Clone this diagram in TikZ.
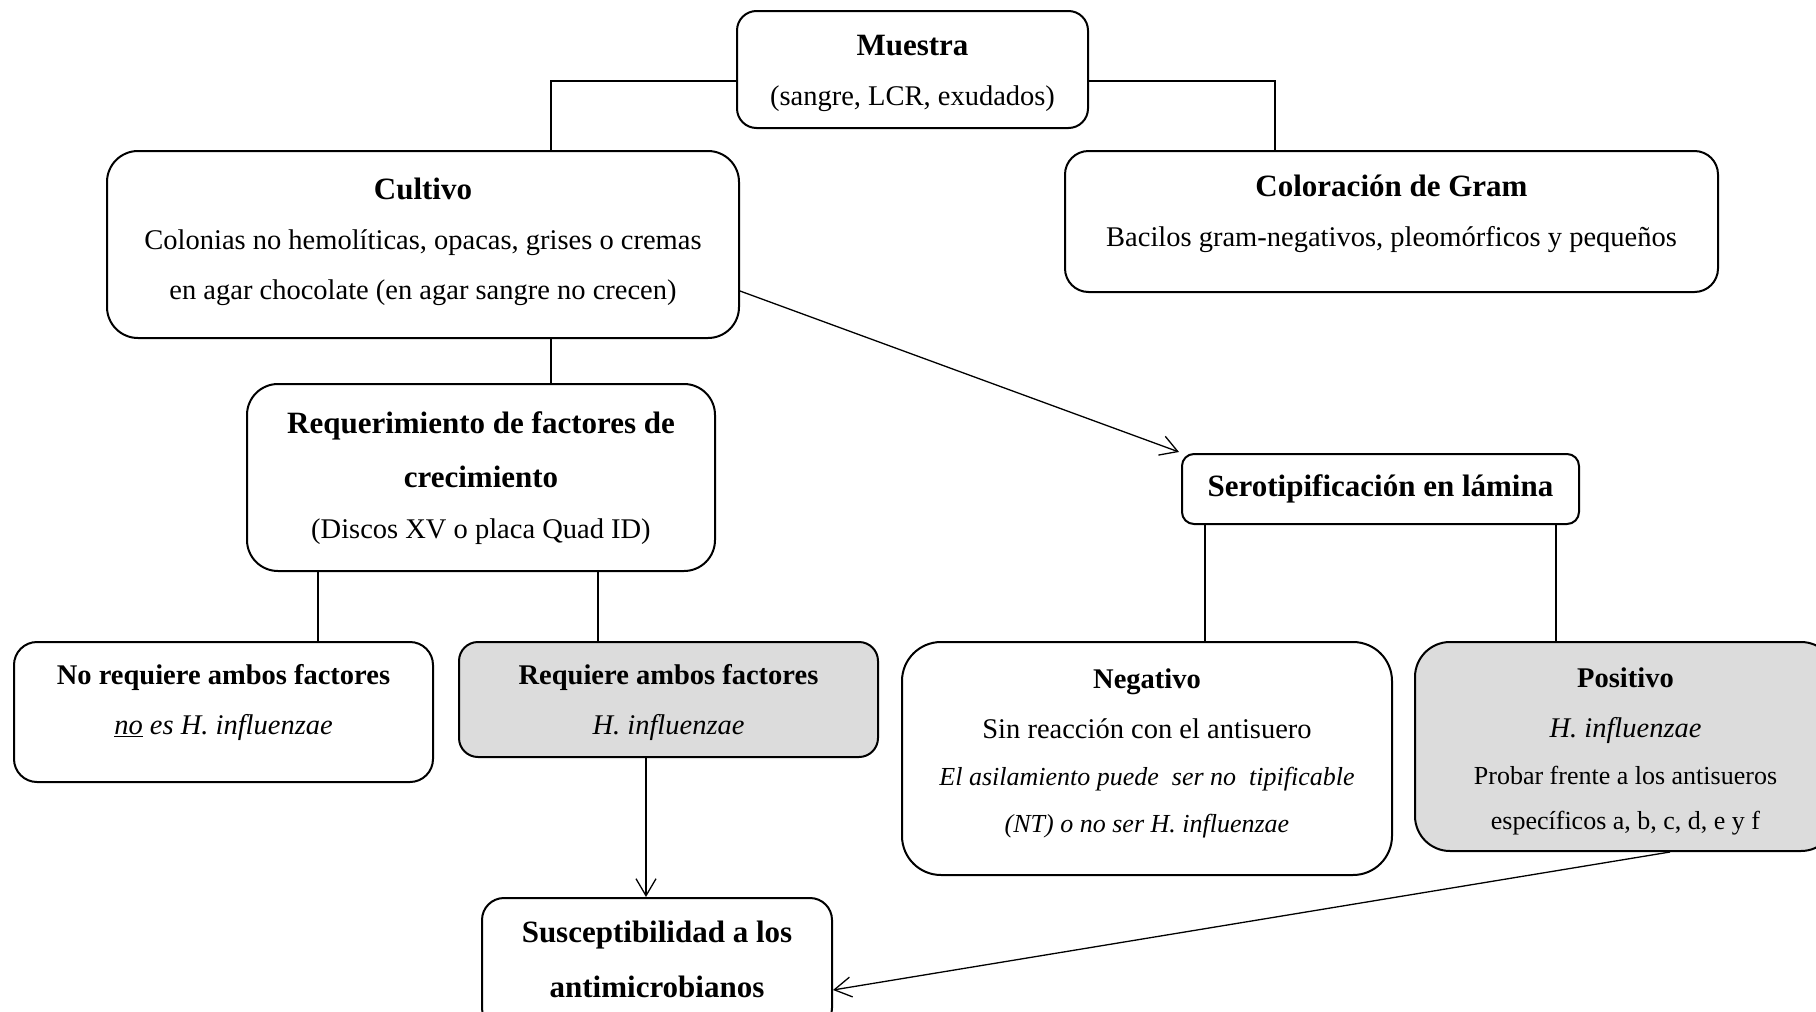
\documentclass[tikz,border=0pt]{standalone}
\usepackage{fontspec}
\setmainfont{Liberation Serif}
\usetikzlibrary{arrows.meta}
\definecolor{boxgray}{RGB}{220,220,220}
\newcommand\hdfont{\fontsize{31}{50}\selectfont\bfseries}
\newcommand\lvfont{\fontsize{28.5}{50}\selectfont\bfseries}
\newcommand\smfont{\fontsize{26}{46}\selectfont}
\tikzset{
  box/.style={draw=black, line width=2pt, fill=white, inner sep=0pt},
  graybox/.style={box, fill=boxgray},
  txt/.style={align=center, inner sep=0pt, font=\fontsize{28.5}{50}\selectfont},
  link/.style={line width=1.3pt},
  arr/.style={link, -{Straight Barb[length=17pt,width=20pt]}}
}
\begin{document}
\begin{tikzpicture}[x=1pt,y=-1pt]
\useasboundingbox (0,0) rectangle (1816,1012);
\clip (0,0) rectangle (1816,1012);
\fill[white] (0,0) rectangle (1816,1012);

% boxes
\node[box, minimum width=351pt, minimum height=117pt, rounded corners=19.5pt] (muestra) at (912.5,69.5) {};
\node[box, minimum width=632pt, minimum height=187pt, rounded corners=31pt] (cultivo) at (423,244.5) {};
\node[box, minimum width=653pt, minimum height=141pt, rounded corners=23.5pt] (gram) at (1391.5,221.5) {};
\node[box, minimum width=468pt, minimum height=187pt, rounded corners=31pt] (req) at (481,477.5) {};
\node[box, minimum width=397pt, minimum height=70pt, rounded corners=12pt] (sero) at (1380.5,489) {};
\node[box, minimum width=419pt, minimum height=140pt, rounded corners=23pt] (noreq) at (223.5,712) {};
\node[graybox, minimum width=419pt, minimum height=115pt, rounded corners=19pt] (sireq) at (668.5,699.5) {};
\node[box, minimum width=490pt, minimum height=233pt, rounded corners=39pt] (neg) at (1147,758.5) {};
\node[graybox, minimum width=421pt, minimum height=209pt, rounded corners=35pt] (pos) at (1625.5,746.5) {};
\node[box, minimum width=350pt, minimum height=132pt, rounded corners=22pt] (sus) at (657,964) {};

% texts
\node[txt] (muestra-t) at (912.5,73) {{\hdfont Muestra}\\(sangre, LCR, exudados)};
\node[txt] (cultivo-t) at (423,242) {{\hdfont Cultivo}\\Colonias no hemolíticas, opacas, grises o cremas\\en agar chocolate (en agar sangre no crecen)};
\node[txt] (gram-t) at (1391.5,214) {{\hdfont Coloración de Gram}\\Bacilos gram-negativos, pleomórficos y pequeños};
\node[txt] (req-t) at (481,478) {{\hdfont Requerimiento de factores de}\\[4pt]{\hdfont crecimiento}\\[1pt](Discos XV o placa Quad ID)};
\node[txt] (sero-t) at (1380.5,488.5) {\hdfont Serotipificación en lámina};
\node[txt] (noreq-t) at (223.5,702.5) {{\lvfont No requiere ambos factores}\\\textit{\underline{no} es H. influenzae}};
\node[txt] (sireq-t) at (668.5,702) {{\lvfont Requiere ambos factores}\\\textit{H. influenzae}};
\node[txt] (neg-t) at (1147,753) {{\lvfont Negativo}\\Sin reacción con el antisuero\\[-3pt]{\smfont\itshape El asilamiento puede\ \ ser no\ \ tipificable}\\[-3pt]{\smfont\itshape (NT) o no ser H. influenzae}};
\node[txt] (pos-t) at (1625.5,751.5) {{\lvfont Positivo}\\\textit{H. influenzae}\\[-3pt]{\smfont Probar frente a los antisueros}\\[-5pt]{\smfont específicos a, b, c, d, e y f}};
\node[txt] (sus-t) at (657,959) {{\hdfont Susceptibilidad a los}\\[5pt]{\hdfont antimicrobianos}};

% connectors
\coordinate (jA) at (551,81);
\coordinate (jB) at (1275,81);
\coordinate (jC) at (318,0);
\coordinate (jD) at (598,0);
\coordinate (jE) at (1205,0);
\coordinate (jF) at (1556,0);
\coordinate (jG) at (646,0);
\coordinate (jH) at (1670,0);
\coordinate (cA) at (0,291);
\coordinate (sA) at (0,990);

\draw[link] (muestra.west |- jA) -- (jA) -- (cultivo.north -| jA);
\draw[link] (muestra.east |- jB) -- (jB) -- (gram.north -| jB);
\draw[link] (cultivo.south -| jA) -- (req.north -| jA);
\draw[arr] (cultivo.east |- cA) -- ([shift={(-2pt,1pt)}]sero.north west);
\draw[link] (req.south -| jC) -- (noreq.north -| jC);
\draw[link] (req.south -| jD) -- (sireq.north -| jD);
\draw[link] (sero.south -| jE) -- (neg.north -| jE);
\draw[link] (sero.south -| jF) -- (pos.north -| jF);
\draw[arr] (sireq.south -| jG) -- (sus.north -| jG);
\draw[arr] (pos.south -| jH) -- (sus.east |- sA);
\end{tikzpicture}
\end{document}
